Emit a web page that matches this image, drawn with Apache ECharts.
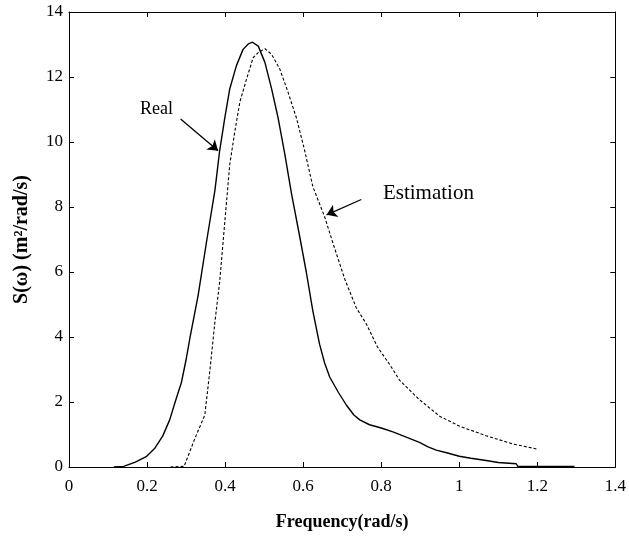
<!DOCTYPE html>
<html>
<head>
<meta charset="utf-8">
<script src="https://cdn.jsdelivr.net/npm/echarts@6/dist/echarts.min.js"></script>
<style>html,body{margin:0;padding:0;background:#fff;}#c{width:629px;height:536px;}</style>
</head>
<body>
<div id="c"></div>
<script>
const realX = [0.115,0.14,0.145,0.17,0.199,0.22,0.24,0.258,0.272,0.288,0.3,0.31,0.331,0.352,0.374,0.386,0.399,0.412,0.429,0.446,0.46,0.47,0.485,0.502,0.519,0.536,0.553,0.57,0.591,0.608,0.625,0.642,0.655,0.668,0.69,0.711,0.73,0.745,0.77,0.8,0.83,0.856,0.898,0.92,0.941,0.97,1.0,1.03,1.069,1.1,1.146,1.15,1.2,1.295];
const realY = [0,0.02,0.08,0.15,0.33,0.58,0.95,1.45,2.0,2.6,3.3,3.98,5.29,6.9,8.52,9.73,10.73,11.64,12.35,12.85,13.02,13.07,12.95,12.45,11.64,10.73,9.63,8.42,7.1,6.0,4.79,3.78,3.2,2.77,2.3,1.9,1.6,1.45,1.3,1.2,1.08,0.96,0.76,0.62,0.52,0.43,0.33,0.27,0.2,0.14,0.1,0.02,0.02,0.02];
const estX = [0.26,0.295,0.322,0.348,0.361,0.374,0.386,0.399,0.412,0.425,0.438,0.455,0.472,0.485,0.502,0.519,0.54,0.561,0.583,0.604,0.625,0.655,0.676,0.706,0.736,0.762,0.79,0.822,0.847,0.898,0.95,1.0,1.069,1.137,1.2];
const estY = [0,0.02,0.86,1.6,2.97,4.48,5.69,7.51,9.32,10.33,11.24,11.94,12.6,12.75,12.87,12.7,12.25,11.54,10.73,9.73,8.62,7.7,6.9,5.8,4.9,4.4,3.7,3.15,2.67,2.07,1.56,1.26,0.96,0.71,0.55];
const xTicks = [0,0.2,0.4,0.6,0.8,1,1.2,1.4];
const yTicks = [0,2,4,6,8,10,12,14];
const annoReal = {text:'Real', at:[0.224,11.0], from:[0.286,10.71], to:[0.382,9.73]};
const annoEst = {text:'Estimation', at:[0.921,8.42], from:[0.749,8.23], to:[0.66,7.76]};

const font = 'Liberation Serif';
const zip = (a,b) => a.map((v,i)=>[v,b[i]]);
const chart = echarts.init(document.getElementById('c'), null, {renderer:'canvas'});
const axisCommon = () => ({
  axisLine:{show:true,onZero:false,lineStyle:{color:'#000',width:1}},
  axisTick:{show:true,inside:true,length:5,lineStyle:{color:'#000'}},
  splitLine:{show:false}
});
function anno(a, size){
  return {
    markLine:{silent:true,symbol:['none','arrow'],symbolSize:10,
      lineStyle:{color:'#000',width:1.3,type:'solid'},label:{show:false},
      data:[[{coord:a.from},{coord:a.to}]]},
    markPoint:{silent:true,symbol:'circle',symbolSize:0,
      label:{show:true,position:'inside',formatter:a.text,color:'#000',fontFamily:font,fontSize:size},
      data:[{coord:a.at}]}
  };
}
const fmt = ticks => v => {const t=ticks.find(k=>Math.abs(k-v)<1e-9);return t===undefined?'':String(t);};
chart.setOption({
  animation:false,
  backgroundColor:'#fff',
  grid:{left:69,right:13,top:12,bottom:61,containLabel:false},
  xAxis:[
    Object.assign({type:'value',min:0,max:1.4,interval:0.2,position:'bottom',
      name:'Frequency(rad/s)',nameLocation:'middle',nameGap:46,
      nameTextStyle:{color:'#000',fontFamily:font,fontSize:18,fontWeight:'bold'},
      axisLabel:{color:'#000',fontFamily:font,fontSize:17,margin:11,formatter:fmt(xTicks)}},axisCommon()),
    Object.assign({type:'value',min:0,max:1.4,interval:0.2,position:'top',axisLabel:{show:false}},axisCommon())
  ],
  yAxis:[
    Object.assign({type:'value',min:0,max:14,interval:2,position:'left',
      name:'S(ω) (m²/rad/s)',nameLocation:'middle',nameGap:37,
      nameTextStyle:{color:'#000',fontFamily:font,fontSize:20,fontWeight:'bold'},
      axisLabel:{color:'#000',fontFamily:font,fontSize:17,margin:6,formatter:fmt(yTicks)}},axisCommon()),
    Object.assign({type:'value',min:0,max:14,interval:2,position:'right',axisLabel:{show:false}},axisCommon())
  ],
  series:[
    Object.assign({type:'line',name:'Real',data:zip(realX,realY),showSymbol:false,symbol:'none',
      lineStyle:{color:'#000',width:1.4}},anno(annoReal,18)),
    Object.assign({type:'line',name:'Estimation',data:zip(estX,estY),showSymbol:false,symbol:'none',
      lineStyle:{color:'#000',width:1.1,type:[3,2]}},anno(annoEst,21))
  ]
});
</script>
</body>
</html>
